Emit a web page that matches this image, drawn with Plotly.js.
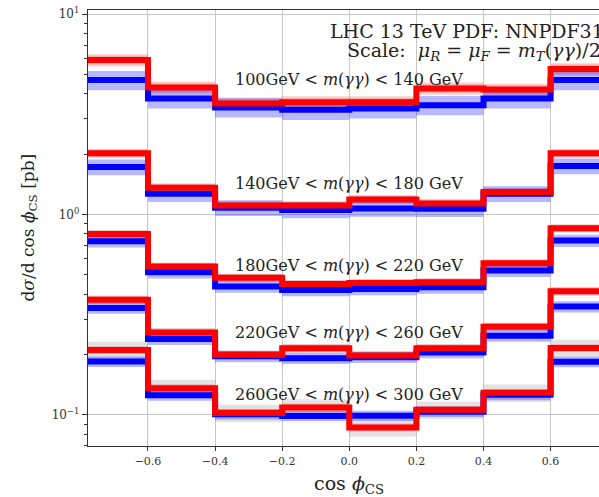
<!DOCTYPE html>
<html>
<head>
<meta charset="utf-8">
<script src="https://cdn.plot.ly/plotly-3.0.1.min.js"></script>
<style>html,body{margin:0;padding:0;background:#fff;}#chart{width:599px;height:497px;}</style>
</head>
<body>
<div id="chart"></div>
<script>
// bin edges in cos(phi_CS)
const binEdges = [-0.78, -0.6, -0.4, -0.2, 0.0, 0.2, 0.4, 0.6, 0.78];

// mass-window labels
const massLabels = [
  "100GeV &lt; <i>m</i>(<i>γγ</i>) &lt; 140 GeV",
  "140GeV &lt; <i>m</i>(<i>γγ</i>) &lt; 180 GeV",
  "180GeV &lt; <i>m</i>(<i>γγ</i>) &lt; 220 GeV",
  "220GeV &lt; <i>m</i>(<i>γγ</i>) &lt; 260 GeV",
  "260GeV &lt; <i>m</i>(<i>γγ</i>) &lt; 300 GeV"
];
const labelLogY = [0.675, 0.1535, -0.255, -0.5885, -0.8965];

// red series (higher-order prediction), pb per bin
const red100 = [5.89, 4.30, 3.58, 3.63, 3.63, 4.25, 4.20, 5.31];
const red140 = [2.02, 1.36, 1.109, 1.109, 1.189, 1.135, 1.293, 2.02];
const red180 = [0.799, 0.550, 0.483, 0.450, 0.455, 0.459, 0.571, 0.854];
const red220 = [0.375, 0.258, 0.1995, 0.215, 0.198, 0.215, 0.275, 0.414];
const red260 = [0.2106, 0.136, 0.1023, 0.109, 0.0866, 0.106, 0.129, 0.2156];

// blue series (lower-order prediction), pb per bin
const blue100 = [4.68, 3.79, 3.42, 3.33, 3.38, 3.51, 3.79, 4.68];
const blue140 = [1.724, 1.269, 1.080, 1.053, 1.072, 1.068, 1.269, 1.744];
const blue180 = [0.735, 0.515, 0.437, 0.420, 0.425, 0.433, 0.525, 0.741];
const blue220 = [0.342, 0.239, 0.196, 0.192, 0.194, 0.205, 0.248, 0.347];
const blue260 = [0.1847, 0.1252, 0.1008, 0.0989, 0.0991, 0.1038, 0.126, 0.184];

// relative band half-widths per mass window
const blueErr = [0.11, 0.09, 0.07, 0.065, 0.06];
const redErr  = [0.07, 0.05, 0.045, 0.045, 0.045];
const grayErr = [0.05, 0.045, 0.045, 0.05, 0.10];

const redSeries = [red100, red140, red180, red220, red260];
const blueSeries = [blue100, blue140, blue180, blue220, blue260];

// tick labels
const xTickVals = [-0.6, -0.4, -0.2, 0.0, 0.2, 0.4, 0.6];
const xTickText = ["−0.6", "−0.4", "−0.2", "0.0", "0.2", "0.4", "0.6"];
const yTickVals = [0.1, 1, 10];
const yTickText = ["10<sup>−1</sup>", "10<sup>0</sup>", "10<sup>1</sup>"];
const yMinorVals = [0.07, 0.08, 0.09, 0.2, 0.3, 0.4, 0.5, 0.6, 0.7, 0.8, 0.9, 2, 3, 4, 5, 6, 7, 8, 9];

const serif = "DejaVu Serif, Liberation Serif, serif";

function stepY(v) { return v.concat([v[v.length - 1]]); }
function scale(v, f) { return v.map(a => a * f); }

const traces = [];
function band(vals, err, color) {
  traces.push({x: binEdges, y: stepY(scale(vals, 1 - err)), mode: "lines",
    line: {shape: "hv", width: 0, color: color}, hoverinfo: "skip", showlegend: false});
  traces.push({x: binEdges, y: stepY(scale(vals, 1 + err)), mode: "lines", fill: "tonexty",
    fillcolor: color, line: {shape: "hv", width: 0, color: color}, hoverinfo: "skip", showlegend: false});
}
for (let i = 0; i < 5; i++) {
  band(redSeries[i], grayErr[i], "rgba(150,150,150,0.28)");
  band(redSeries[i], redErr[i], "rgba(255,0,0,0.2)");
  band(blueSeries[i], blueErr[i], "rgba(0,0,255,0.28)");
  traces.push({x: binEdges, y: stepY(blueSeries[i]), mode: "lines",
    line: {shape: "hv", width: 6, color: "#0000ff"}, showlegend: false});
  traces.push({x: binEdges, y: stepY(redSeries[i]), mode: "lines",
    line: {shape: "hv", width: 6, color: "#ff0000"}, showlegend: false});
}

const annotations = massLabels.map((t, i) => ({
  text: t, xref: "x", yref: "y", x: 0, y: labelLogY[i], xanchor: "center", yanchor: "middle",
  showarrow: false, font: {family: serif, size: 16, color: "#222"}
}));
annotations.push({text: "LHC 13 TeV PDF: NNPDF31", xref: "paper", yref: "paper",
  x: 0.4697, y: 0.951, xanchor: "left", yanchor: "middle", showarrow: false,
  font: {family: serif, size: 19, color: "#222"}});
annotations.push({text: "Scale:  <i>μ</i><sub><i>R</i></sub> = <i>μ</i><sub><i>F</i></sub> = <i>m</i><sub><i>T</i></sub>(<i>γγ</i>)/2",
  xref: "paper", yref: "paper", x: 0.503, y: 0.904, xanchor: "left", yanchor: "middle", showarrow: false,
  font: {family: serif, size: 19, color: "#222"}});
annotations.push({text: "cos <i>ϕ</i><sub>CS</sub>", xref: "x", yref: "paper", x: 0, y: -0.088,
  xanchor: "center", yanchor: "middle", showarrow: false, font: {family: serif, size: 19, color: "#222"}});
annotations.push({text: "d<i>σ</i>/d cos <i>ϕ</i><sub>CS</sub> [pb]", xref: "paper", yref: "paper",
  x: -0.1164, y: 0.5, xanchor: "center", yanchor: "middle", textangle: -90, showarrow: false,
  font: {family: serif, size: 17, color: "#222"}});

const layout = {
  width: 599, height: 497,
  margin: {l: 88, r: 0, t: 10, b: 51, pad: 0},
  paper_bgcolor: "#fff", plot_bgcolor: "#fff",
  showlegend: false,
  xaxis: {range: [-0.7788, 0.7443], tickmode: "array", tickvals: xTickVals, ticktext: xTickText,
    ticks: "outside", ticklen: 4, tickcolor: "#333", showgrid: true, gridcolor: "#c8c8c8", gridwidth: 1,
    showline: true, mirror: true, linecolor: "#333", linewidth: 1.3, zeroline: false,
    tickfont: {family: serif, size: 11, color: "#333"}},
  yaxis: {type: "log", range: [-1.155, 1.02], tickmode: "array", tickvals: yTickVals, ticktext: yTickText,
    ticks: "outside", ticklen: 5, tickcolor: "#333", showgrid: true, gridcolor: "#c8c8c8", gridwidth: 1,
    showline: true, mirror: false, linecolor: "#333", linewidth: 1.3, zeroline: false,
    tickfont: {family: serif, size: 12, color: "#333"},
    minor: {tickmode: "array", tickvals: yMinorVals, ticks: "outside", ticklen: 3, tickcolor: "#333", showgrid: false}},
  annotations: annotations
};

Plotly.newPlot("chart", traces, layout, {staticPlot: true, displayModeBar: false});
</script>
</body>
</html>
